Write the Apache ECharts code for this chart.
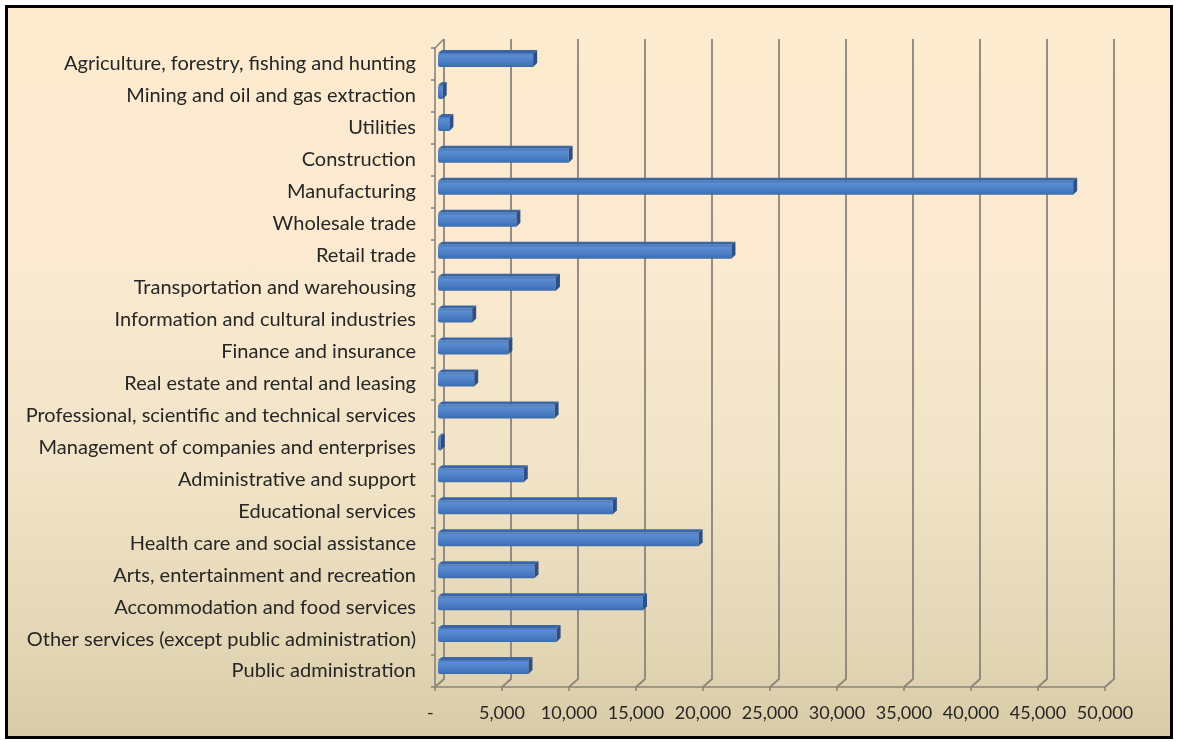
<!DOCTYPE html>
<html>
<head>
<meta charset="utf-8">
<script src="https://cdn.jsdelivr.net/npm/echarts@6/dist/echarts.min.js"></script>
<style>
  html, body { margin: 0; padding: 0; background: #ffffff; }
  #frame {
    position: absolute; left: 5px; top: 5px; width: 1162px; height: 728px;
    border: 3px solid #000;
    background: linear-gradient(to bottom, #fdebcf 0%, #fbead0 35%, #f0e3c6 65%, #e3d6b5 88%, #d9cba7 100%);
  }
  #chart { position: absolute; left: 0; top: 0; width: 1178px; height: 742px; }
</style>
</head>
<body>
<div id="frame"></div>
<div id="chart"></div>
<script>
const categories = [
  "Agriculture, forestry, fishing and hunting",
  "Mining and oil and gas extraction",
  "Utilities",
  "Construction",
  "Manufacturing",
  "Wholesale trade",
  "Retail trade",
  "Transportation and warehousing",
  "Information and cultural industries",
  "Finance and insurance",
  "Real estate and rental and leasing",
  "Professional, scientific and technical services",
  "Management of companies and enterprises",
  "Administrative and support",
  "Educational services",
  "Health care and social assistance",
  "Arts, entertainment and recreation",
  "Accommodation and food services",
  "Other services (except public administration)",
  "Public administration"
];
const values = [7100, 350, 850, 9750, 47400, 5850, 21900, 8800, 2550, 5250,
                2700, 8700, 200, 6400, 13050, 19450, 7200, 15300, 8850, 6750];
const tickValues = [0, 5000, 10000, 15000, 20000, 25000, 30000, 35000, 40000, 45000, 50000];

const DX = 9, DY = 8;          // depth of the 3D box
const FONT = 'Lato, "Open Sans", sans-serif';
const chart = echarts.init(document.getElementById('chart'), null, { renderer: 'canvas' });

const option = {
  backgroundColor: 'transparent',
  animation: false,
  grid: { left: 435, right: 73, top: 48, bottom: 55, containLabel: false },
  xAxis: {
    type: 'value', min: 0, max: 50000, interval: 5000,
    axisLine: { show: true, lineStyle: { color: '#8a857b', width: 1.6 } },
    axisTick: { show: true, length: 4, lineStyle: { color: '#8a857b', width: 1.6 } },
    splitLine: { show: false },
    axisLabel: {
      fontFamily: FONT, fontSize: 18, color: '#262626', margin: 17,
      formatter: v => v === 0 ? '-  ' : v.toLocaleString('en-US')
    }
  },
  yAxis: {
    type: 'category', data: categories, inverse: true,
    axisLine: { show: true, lineStyle: { color: '#8a857b', width: 1.6 } },
    axisTick: { show: true, length: 4, lineStyle: { color: '#8a857b', width: 1.6 } },
    axisLabel: { fontFamily: FONT, fontSize: 20, color: '#262626', margin: 19 },
    splitLine: { show: false }
  },
  series: [
    {
      type: 'custom', name: 'frame', silent: true, z: 1,
      data: tickValues.map(v => [v]),
      encode: { x: 0 },
      renderItem: function (params, api) {
        const cs = params.coordSys;
        const x = api.coord([api.value(0), 0])[0];
        const bottom = cs.y + cs.height, top = cs.y;
        const children = [{
          type: 'polyline',
          shape: { points: [[x, bottom], [x + DX, bottom - DY], [x + DX, top - DY - 1]] },
          style: { stroke: '#8a857b', lineWidth: 1.8, fill: null }
        }];
        if (api.value(0) === 0) {
          children.push({
            type: 'line',
            shape: { x1: x, y1: top, x2: x + DX, y2: top - DY - 1 },
            style: { stroke: '#8a857b', lineWidth: 1.6 }
          });
        }
        return { type: 'group', children: children };
      }
    },
    {
      type: 'custom', name: 'bars', z: 3,
      data: values.map((v, i) => [v, i]),
      encode: { x: 0, y: 1 },
      renderItem: function (params, api) {
        const v = api.value(0), c = api.value(1);
        const p0 = api.coord([0, c]);
        const p1 = api.coord([v, c]);
        const off = 3, d = 4, h = 14;
        const x0 = p0[0] + off, x1 = Math.max(p1[0] + off, x0 + 1.5);
        const cy = p0[1] - 4;
        const yT = cy - h / 2, yB = cy + h / 2;
        return {
          type: 'group',
          children: [
            {
              type: 'polygon',
              shape: { points: [[x0, yT], [x1, yT], [x1 + d, yT - 3], [x0 + d, yT - 3]] },
              style: { fill: '#3a66a5' }
            },
            {
              type: 'rect',
              shape: { x: x0, y: yT, width: x1 - x0, height: h, r: [2, 0, 0, 2] },
              style: {
                fill: new echarts.graphic.LinearGradient(0, 0, 0, 1, [
                  { offset: 0, color: '#4878b9' },
                  { offset: 0.2, color: '#5a8dd3' },
                  { offset: 0.6, color: '#4b7ec5' },
                  { offset: 1, color: '#3d6cad' }
                ])
              }
            },
            {
              type: 'polygon',
              shape: { points: [[x1, yT], [x1 + d, yT - 3], [x1 + d, yB - 4], [x1, yB]] },
              style: { fill: '#2c4f85' }
            }
          ]
        };
      }
    }
  ]
};
chart.setOption(option);
</script>
</body>
</html>
